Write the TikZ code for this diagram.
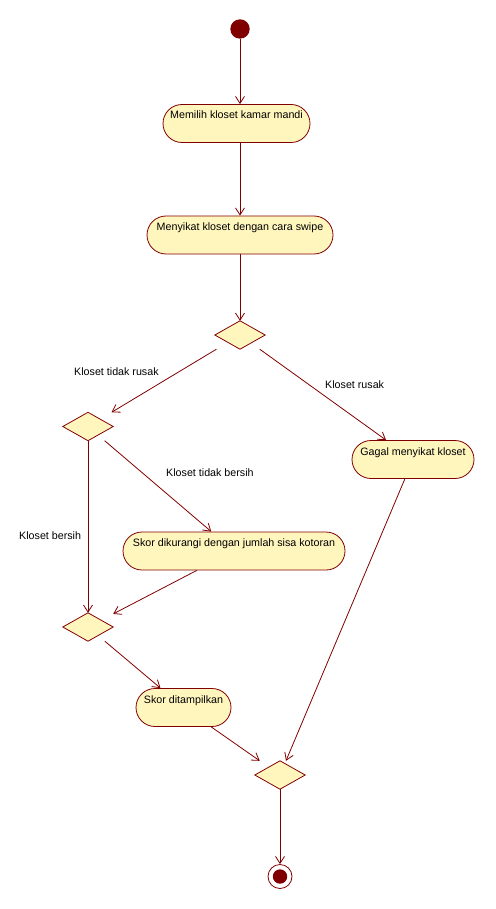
\documentclass[tikz,border=0pt]{standalone}
\usepackage{fontspec}
\setmainfont{Liberation Sans}
\usetikzlibrary{arrows.meta}
\definecolor{umlline}{RGB}{128,0,0}
\definecolor{umlfill}{RGB}{255,246,190}
\begin{document}
\begin{tikzpicture}[x=1pt,y=-1pt,
  every node/.style={font=\fontsize{10.7}{12}\selectfont, text=black},
  act/.style={rectangle, draw=umlline, fill=umlfill, line width=0.8pt, rounded corners=19pt,
    inner xsep=0pt, inner ysep=0pt, text height=14.5pt, text depth=23.5pt},
  dec/.style={rectangle, inner sep=0pt, minimum width=50pt, minimum height=28pt},
  diam/.style={draw=umlline, fill=umlfill, line width=0.8pt},
  flow/.style={draw=umlline, line width=0.8pt, -{Straight Barb[length=7pt,width=9pt]}},
  lbl/.style={anchor=base west, inner sep=0pt}
]
\useasboundingbox (0,0) rectangle (495,909);

\node[circle, fill=umlline, minimum size=19.4pt, inner sep=0pt] (start) at (240,29) {};
\node[act, minimum width=147pt] (n1) at (236.5,123.5) {Memilih kloset kamar mandi};
\node[act, minimum width=186pt] (n2) at (240,235) {Menyikat kloset dengan cara swipe};
\node[dec] (d1) at (240,335) {};
\node[dec] (d2) at (88,426.5) {};
\node[act, minimum width=122pt] (gagal) at (413,459.5) {Gagal menyikat kloset};
\node[act, minimum width=222pt] (skor1) at (234,551) {Skor dikurangi dengan jumlah sisa kotoran};
\node[dec] (d3) at (88,627) {};
\node[act, minimum width=95pt] (skor2) at (183.5,707.5) {Skor ditampilkan};
\node[dec] (d4) at (280,775) {};
\node[circle, draw=umlline, fill=white, line width=0.8pt, minimum size=24pt, inner sep=0pt] (end) at (280,876.5) {};
\node[circle, fill=umlline, minimum size=14.4pt, inner sep=0pt] (endin) at (end.center) {};

\foreach \d in {d1,d2,d3,d4}
  \draw[diam] (\d.north) -- (\d.east) -- (\d.south) -- (\d.west) -- cycle;

\node[lbl] (l1) at (74,375) {Kloset tidak rusak};
\node[lbl] (l2) at (325,388) {Kloset rusak};
\node[lbl] (l3) at (166,476) {Kloset tidak bersih};
\node[lbl] (l4) at (19,539) {Kloset bersih};

\draw[flow] (start) -- (start |- n1.north);
\draw[flow] (n1.south -| n2.north) -- (n2);
\draw[flow] (n2) -- (d1);
\draw[flow] (d1) -- (d2);
\draw[flow] (d1) -- (gagal);
\draw[flow] (d2) -- (skor1);
\draw[flow] (d2) -- (d3);
\draw[flow] (skor1) -- (d3);
\draw[flow] (d3) -- (skor2);
\draw[flow] (skor2) -- (d4);
\draw[flow] (gagal) -- (d4);
\draw[flow] (d4) -- (end);
\end{tikzpicture}
\end{document}
